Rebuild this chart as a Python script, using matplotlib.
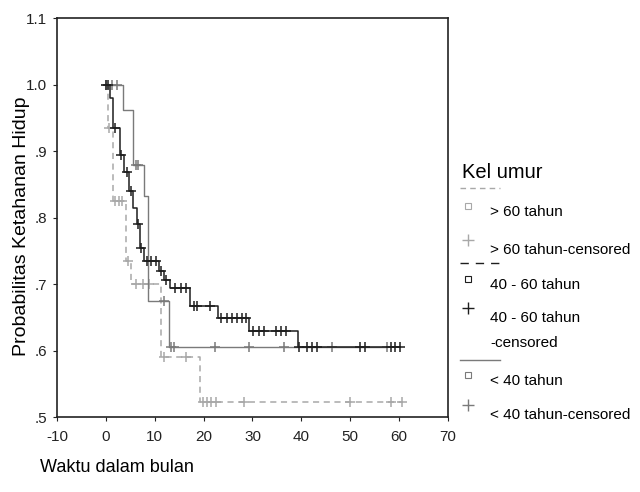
import matplotlib
matplotlib.use('Agg')
import matplotlib.pyplot as plt
import numpy as np
from matplotlib.lines import Line2D

plt.rcParams['font.family'] = ['Liberation Sans', 'DejaVu Sans']
plt.rcParams['axes.unicode_minus'] = False

# Kaplan-Meier steps (time in months, survival after the drop)
t_over60 = [0, 0.4, 1.5, 4.2, 5.2, 11.2, 19.3]
s_over60 = [1.0, 0.935, 0.825, 0.735, 0.70, 0.59, 0.523]
c_over60 = [0.1, 0.7, 1.9, 2.6, 3.4, 4.6, 6.1, 7.5, 8.8, 11.8, 16.5,
            19.8, 20.7, 21.6, 22.5, 28.2, 50.0, 58.3, 60.6]

t_40to60 = [0, 0.8, 1.5, 2.8, 3.8, 4.8, 5.6, 6.4, 7.0, 7.8, 10.9, 11.9,
            13.2, 17.3, 23.0, 29.2, 39.4]
s_40to60 = [1.0, 0.98, 0.935, 0.895, 0.868, 0.84, 0.815, 0.79, 0.755, 0.735,
            0.72, 0.707, 0.695, 0.667, 0.649, 0.63, 0.605]
c_40to60 = [0.0, 0.5, 1.8, 3.2, 4.3, 5.2, 6.6, 7.2, 8.4, 9.3, 10.2, 11.3,
            12.4, 14.2, 15.3, 16.5, 18.0, 18.7, 21.4, 23.6, 24.8, 25.8, 26.8,
            27.8, 28.7, 30.2, 31.3, 32.3, 34.8, 35.8, 36.8, 39.6, 41.2, 42.2,
            43.2, 52.0, 53.0, 58.3, 59.2, 60.2]

t_under40 = [0, 3.5, 5.5, 7.8, 8.6, 13.0]
s_under40 = [1.0, 0.962, 0.88, 0.832, 0.675, 0.605]
c_under40 = [1.3, 2.2, 6.1, 6.6, 11.8, 13.4, 14.0, 22.3, 29.2, 36.4, 46.3, 57.6]

xticks = [-10, 0, 10, 20, 30, 40, 50, 60, 70]
yticks = [0.5, 0.6, 0.7, 0.8, 0.9, 1.0, 1.1]
ytick_labels = ['.5', '.6', '.7', '.8', '.9', '1.0', '1.1']

col_over60 = '#a8a8a8'
col_40to60 = '#1e1e1e'
col_under40 = '#7a7a7a'

fig = plt.figure(figsize=(6.4, 4.92), dpi=100)
ax = fig.add_axes([0.089, 0.152, 0.611, 0.811])


def km(ax, t, s, c, color, ls, lw):
    t = list(t) + [max(c)]
    s = list(s) + [s[-1]]
    ax.step(t, s, where='post', color=color, linestyle=ls, linewidth=lw)
    idx = np.searchsorted(np.array(t[:-1]), np.array(c), side='right') - 1
    ax.plot(c, np.array(s)[idx], '+', color=color, markersize=7.5, mew=1.1)


km(ax, t_over60, s_over60, c_over60, col_over60, (0, (4, 3)), 1.1)
km(ax, t_under40, s_under40, c_under40, col_under40, '-', 1.0)
km(ax, t_40to60, s_40to60, c_40to60, col_40to60, '-', 1.1)

ax.set_xlim(-10, 70)
ax.set_ylim(0.5, 1.1)
ax.set_xticks(xticks)
ax.set_yticks(yticks)
ax.set_yticklabels(ytick_labels)
ax.tick_params(direction='out', length=3, labelsize=11, colors='#222222')
ax.tick_params(axis='x', pad=6)
ax.tick_params(axis='y', pad=4)
for sp in ax.spines.values():
    sp.set_color('#222222')
    sp.set_linewidth(1.2)

fig.text(0.034, 0.54, 'Probabilitas Ketahanan Hidup', rotation=90,
         ha='center', va='center', fontsize=14)
fig.text(0.063, 0.05, 'Waktu dalam bulan', ha='left', va='center', fontsize=13)

# SPSS style legend to the right of the plot
W, H = 640.0, 492.0


def fx(px):
    return px / W


def fy(py):
    return 1 - py / H


fig.text(fx(462), fy(172), 'Kel umur', fontsize=14.5, va='center', ha='left')

leg_lines = [(188, col_over60, (0, (4, 3))), (263, col_40to60, (0, (6, 5))),
             (360, col_under40, '-')]
for py, colr, ls in leg_lines:
    fig.add_artist(Line2D([fx(460), fx(500)], [fy(py), fy(py)], color=colr,
                          linestyle=ls, linewidth=1.0, transform=fig.transFigure))

leg_entries = [
    (209, 's', col_over60, '> 60 tahun'),
    (247, '+', col_over60, '> 60 tahun-censored'),
    (282, 's', col_40to60, '40 - 60 tahun'),
    (315, '+', col_40to60, '40 - 60 tahun'),
    (378, 's', col_under40, '< 40 tahun'),
    (412, '+', col_under40, '< 40 tahun-censored'),
]
for py, mk, colr, lab in leg_entries:
    if mk == 's':
        fig.add_artist(Line2D([fx(468)], [fy(py - 3)], marker='s', markersize=4,
                              markerfacecolor='none', markeredgecolor=colr,
                              mew=0.8, linestyle='none', transform=fig.transFigure))
    else:
        fig.add_artist(Line2D([fx(468)], [fy(py - 7)], marker='+', markersize=8,
                              color=colr, mew=1.0, linestyle='none',
                              transform=fig.transFigure))
    fig.text(fx(490), fy(py + 3), lab, fontsize=11, va='center', ha='left')
fig.text(fx(490), fy(343), '-censored', fontsize=11, va='center', ha='left')

fig.savefig('out.png', dpi=100, facecolor='white')
